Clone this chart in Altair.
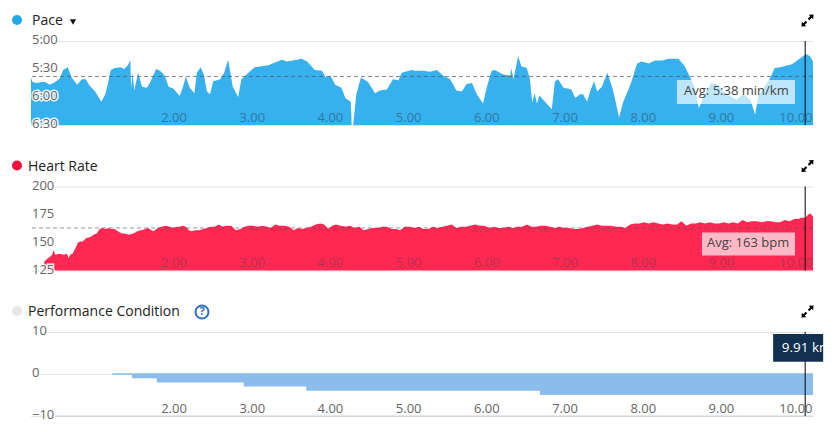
import altair as alt
import pandas as pd

FONT = "Open Sans"

pace_km = [0.00,0.02,0.07,0.14,0.18,0.24,0.31,0.37,0.41,0.47,0.52,0.59,0.65,0.70,0.75,0.82,0.90,0.95,0.98,1.02,
1.07,1.15,1.19,1.24,1.27,1.28,1.30,1.32,1.37,1.42,1.48,1.52,1.60,1.65,1.71,1.76,1.82,1.90,1.94,1.98,
2.03,2.09,2.12,2.17,2.21,2.25,2.29,2.33,2.42,2.47,2.52,2.55,2.58,2.65,2.69,2.78,2.86,2.95,3.04,3.12,
3.21,3.27,3.35,3.46,3.53,3.63,3.72,3.77,3.83,3.89,3.97,4.02,4.09,4.10,4.12,4.16,4.22,4.31,4.40,4.46,
4.55,4.63,4.70,4.74,4.87,4.91,5.02,5.10,5.19,5.27,5.36,5.44,5.51,5.57,5.64,5.70,5.78,5.83,5.89,5.93,
6.04,6.13,6.14,6.17,6.23,6.27,6.34,6.38,6.41,6.44,6.47,6.50,6.55,6.66,6.70,6.74,6.81,6.86,6.91,6.96,
7.02,7.06,7.11,7.15,7.20,7.24,7.30,7.37,7.43,7.46,7.52,7.57,7.64,7.68,7.75,7.81,7.90,7.98,8.07,8.15,
8.28,8.36,8.43,8.49,8.54,8.62,8.70,8.77,8.85,8.94,9.02,9.11,9.20,9.26,9.30,9.37,9.45,9.51,9.58,9.73,
9.81,9.91,9.96,10.00]
pace_sec = [339,344,345,344,344,347,344,340,331,328,339,347,341,341,348,354,365,357,347,331,
329,328,330,326,320,350,334,353,334,349,350,345,330,332,337,349,351,359,350,338,
350,356,334,328,336,354,357,343,341,334,320,334,349,360,341,334,328,327,326,323,
320,322,321,319,322,331,332,339,337,347,350,361,365,390,390,357,339,344,356,353,
352,341,342,334,331,332,332,333,331,337,341,353,354,346,345,357,367,349,332,331,
336,337,329,341,316,327,329,341,366,356,367,358,363,373,343,341,350,351,352,361,
357,357,365,354,343,354,349,334,349,359,382,366,352,343,324,322,324,321,321,319,
319,327,339,350,372,356,345,346,354,359,363,357,363,379,359,350,340,329,328,325,
320,314,316,322]

hr_km = [0.16,0.17,0.20,0.24,0.27,0.29,0.31,0.36,0.42,0.46,
0.48,0.50,0.53,0.57,0.60,0.63,0.66,0.71,0.76,0.80,
0.84,0.88,0.91,0.95,0.99,1.03,1.07,1.11,1.16,1.20,
1.25,1.31,1.36,1.41,1.46,1.50,1.54,1.57,1.62,1.67,
1.72,1.77,1.82,1.86,1.90,1.94,1.98,2.02,2.05,2.10,
2.15,2.20,2.25,2.30,2.35,2.40,2.45,2.50,2.56,2.62,
2.68,2.73,2.78,2.84,2.90,2.96,3.02,3.07,3.12,3.18,
3.24,3.30,3.36,3.41,3.46,3.52,3.58,3.64,3.70,3.75,
3.80,3.85,3.90,3.96,4.02,4.08,4.14,4.20,4.25,4.31,
4.37,4.43,4.49,4.55,4.61,4.67,4.72,4.78,4.84,4.90,
4.96,5.02,5.08,5.14,5.20,5.26,5.32,5.38,5.44,5.50,
5.56,5.62,5.68,5.74,5.80,5.86,5.92,5.98,6.04,6.10,
6.16,6.22,6.28,6.34,6.40,6.46,6.52,6.58,6.64,6.70,
6.76,6.82,6.88,6.94,7.00,7.06,7.12,7.18,7.24,7.30,
7.36,7.42,7.48,7.54,7.60,7.66,7.72,7.78,7.84,7.90,
7.96,8.02,8.08,8.14,8.20,8.26,8.32,8.38,8.44,8.50,
8.56,8.62,8.68,8.74,8.80,8.86,8.92,8.98,9.04,9.10,
9.16,9.22,9.28,9.34,9.40,9.46,9.52,9.58,9.64,9.70,
9.76,9.81,9.85,9.90,9.94,9.97,10.00]
hr_bpm = [125,133,135,137,139,143,139,140,139,140,
136,139,140,145,150,151,151,154,155,157,
158,162,163,162,163,162,162,160,158,158,
157,158,160,161,162,163,161,160,163,164,
165,164,163,164,164,165,164,161,160,161,
161,162,163,164,164,166,164,165,165,161,
162,164,165,165,164,165,164,163,166,165,
165,164,161,163,162,163,164,166,167,166,
162,165,166,165,164,165,163,164,161,162,
163,163,164,164,162,162,161,164,164,163,
164,162,162,164,163,164,165,166,163,164,
164,165,166,165,165,163,164,163,163,164,
163,164,164,166,164,164,165,165,164,163,
164,163,163,162,162,163,164,165,166,165,
165,165,164,164,163,166,167,167,168,167,
168,167,166,167,166,166,169,165,167,167,
168,167,168,167,167,168,167,168,167,170,
168,169,169,168,169,169,168,168,170,169,
171,171,172,172,175,176,173]

cond_km = [1.04,1.29,1.61,2.72,3.52,6.51,10.00]
cond_val = [-0.2,-1,-2,-3,-4,-5,-5]

km_ticks = [2,3,4,5,6,7,8,9,10]
pace_ticks = [300,330,360,390]
pace_tick_labels = ["5:00","5:30","6:00","6:30"]
hr_ticks = [125,150,175,200]
hr_tick_labels = ["125","150","175","200"]
cond_ticks = [-10,0,10]
cond_tick_labels = ["\u221210","0","10"]

pace_avg = 338
hr_avg = 163
cursor_km = 9.9

W, H = 782, 84
EXPAND = ("M1,-1 L0.2,-0.95 L0.45,-0.7 L0.05,-0.3 L0.3,-0.05 L0.7,-0.45 L0.95,-0.2 Z "
          "M-1,1 L-0.95,0.2 L-0.7,0.45 L-0.3,0.05 L-0.05,0.3 L-0.45,0.7 L-0.2,0.95 Z")
one = pd.DataFrame({"a": [0]})


def panel(title, dot_color, title_x, y_scale, ticks, tick_labels, label_color, label_opacity,
          body, extras=()):
    xs = alt.Scale(domain=[0, 10], nice=False, zero=False)
    x_enc = alt.X("km:Q", scale=xs, axis=alt.Axis(values=km_ticks, format=".2f", title=None, grid=False,
                  domain=False, ticks=False, labelAlign="right", labelBaseline="bottom", labelPadding=-1,
                  labelOffset=-1,
                  labelFont=FONT, labelFontSize=13, labelColor=label_color, labelOpacity=label_opacity,
                  labelFlush=False, labelOverlap=False, zindex=1, labelBound=False))
    y_enc = alt.Y("v:Q", scale=y_scale, axis=alt.Axis(values=ticks, title=None, labels=False, ticks=False,
                  domain=False, grid=True, gridColor="#e2e2e2", gridWidth=1))
    layers = [alt.Chart(d).mark_area(**m).encode(x=x_enc, y=y_enc, y2=alt.Y2("b:Q")) for d, m in body]
    layers += [e(xs, y_scale) for e in extras]

    tick_df = pd.DataFrame({"v": ticks, "t": tick_labels})
    for kw in ({"stroke": "white", "strokeWidth": 3, "strokeOpacity": 0.9, "fill": "white"},
               {"fill": "#666666"}):
        layers.append(alt.Chart(tick_df).mark_text(align="left", baseline="middle", dy=-1, font=FONT,
                                                   fontSize=13, **kw)
                      .encode(x=alt.value(1), y=alt.Y("v:Q", scale=y_scale), text="t:N"))

    title_df = pd.DataFrame({"t": [title]})
    layers.append(alt.Chart(title_df).mark_text(align="left", baseline="middle", font=FONT, fontSize=14,
                                                fill="#222222")
                  .encode(x=alt.value(title_x), y=alt.value(-20), text="t:N"))
    layers.append(alt.Chart(one).mark_point(shape="circle", filled=True, size=100, color=dot_color, opacity=1)
                  .encode(x=alt.value(-14), y=alt.value(-21)))
    layers.append(alt.Chart(one).mark_point(shape=EXPAND, filled=True, size=144, color="#000000", opacity=1)
                  .encode(x=alt.value(776.5), y=alt.value(-20.5)))
    return alt.layer(*layers).properties(width=W, height=H)


def value_rule(v, scale, **m):
    df = pd.DataFrame({"v": [v]})
    return alt.Chart(df).mark_rule(**m).encode(y=alt.Y("v:Q", scale=scale))


def cursor(xs, ys):
    df = pd.DataFrame({"km": [cursor_km]})
    return alt.Chart(df).mark_rule(color="#000000", strokeWidth=1).encode(x=alt.X("km:Q", scale=xs))


def avg_box(x0, x1, y0, y1, tx, ty, text):
    def f(xs, ys):
        df = pd.DataFrame({"km": [x0], "km2": [x1], "v": [y0], "v2": [y1]})
        return alt.Chart(df).mark_rect(color="white", opacity=0.68).encode(
            x=alt.X("km:Q", scale=xs), x2="km2:Q", y=alt.Y("v:Q", scale=ys), y2="v2:Q")

    def g(xs, ys):
        df = pd.DataFrame({"km": [tx], "v": [ty], "t": [text]})
        return alt.Chart(df).mark_text(font=FONT, fontSize=13, fill="#444444", baseline="middle").encode(
            x=alt.X("km:Q", scale=xs), y=alt.Y("v:Q", scale=ys), text="t:N")
    return f, g


pace_scale = alt.Scale(domain=[300, 390], reverse=True, nice=False, zero=False)
hr_scale = alt.Scale(domain=[125, 200], nice=False, zero=False)
cond_scale = alt.Scale(domain=[-10, 10], nice=False, zero=False)

pace_df = pd.DataFrame({"km": pace_km, "v": pace_sec, "b": [390] * len(pace_km)})
hr_df = pd.DataFrame({"km": hr_km, "v": hr_bpm, "b": [125] * len(hr_km)})
cond_df = pd.DataFrame({"km": cond_km, "v": cond_val, "b": [0.2] * len(cond_km)})

pb, pt = avg_box(8.26, 9.77, 341.8, 367.5, 9.02, 354, "Avg: 5:38 min/km")
hb, ht = avg_box(8.58, 9.77, 158.9, 138.4, 9.17, 149.2, "Avg: 163 bpm")


def pace_extra(xs, ys):
    return value_rule(pace_avg, ys, color="#555555", strokeDash=[4, 3], strokeWidth=1, opacity=0.7)


def hr_extra(xs, ys):
    return value_rule(hr_avg, ys, color="#555555", strokeDash=[4, 3], strokeWidth=1, opacity=0.6)


def triangle(xs, ys):
    return alt.Chart(one).mark_point(shape="triangle-down", filled=True, size=38, color="#111111", opacity=1).encode(
        x=alt.value(42), y=alt.value(-19))


def help_ring(xs, ys):
    return alt.Chart(one).mark_point(shape="circle", filled=False, size=170, color="#2f6fbd", strokeWidth=2,
                                     opacity=1).encode(x=alt.value(171), y=alt.value(-20))


def help_mark(xs, ys):
    return alt.Chart(pd.DataFrame({"t": ["?"]})).mark_text(font=FONT, fontSize=11, fontWeight="bold", fill="#2f6fbd",
                                                           baseline="middle").encode(
        x=alt.value(171), y=alt.value(-20), text="t:N")


def bottom_line(xs, ys):
    return value_rule(-10, ys, color="#c8d2de", strokeWidth=1)


def tip_box(xs, ys):
    df = pd.DataFrame({"km": [9.49], "km2": [10.13], "v": [9.5], "v2": [2.9]})
    return alt.Chart(df).mark_rect(color="#12304f").encode(
        x=alt.X("km:Q", scale=xs), x2="km2:Q", y=alt.Y("v:Q", scale=ys), y2="v2:Q")


def tip_text(xs, ys):
    df = pd.DataFrame({"km": [9.60], "v": [6.3], "t": ["9.91 km"]})
    return alt.Chart(df).mark_text(font=FONT, fontSize=13.5, fill="#ffffff", align="left", baseline="middle").encode(
        x=alt.X("km:Q", scale=xs), y=alt.Y("v:Q", scale=ys), text="t:N")


pace_panel = panel("Pace", "#1fa8ea", 1, pace_scale, pace_ticks, pace_tick_labels, "#33617f", 0.75,
                   [(pace_df, {"color": "#36b1ee", "opacity": 1, "interpolate": "linear"})],
                   extras=(pace_extra, pb, pt, cursor, triangle))
hr_panel = panel("Heart Rate", "#f5103e", -3, hr_scale, hr_ticks, hr_tick_labels, "#7a3a4a", 0.6,
                 [(hr_df, {"color": "#fe2852", "opacity": 1, "interpolate": "linear"})],
                 extras=(hr_extra, hb, ht, cursor))
cond_panel = panel("Performance Condition", "#e6e6e6", -3, cond_scale, cond_ticks, cond_tick_labels, "#666666", 1,
                   [(cond_df, {"color": "#8bbcec", "opacity": 1, "interpolate": "step-after"})],
                   extras=(bottom_line, cursor, tip_box, tip_text, help_ring, help_mark))

chart = alt.vconcat(pace_panel, hr_panel, cond_panel, spacing=61.5, bounds="flush").properties(
    padding={"left": 4, "top": 6, "right": -8, "bottom": 0},
    background="white",
).configure_view(stroke=None)

chart.save("out.html", embed_options={"renderer": "svg", "actions": False})
